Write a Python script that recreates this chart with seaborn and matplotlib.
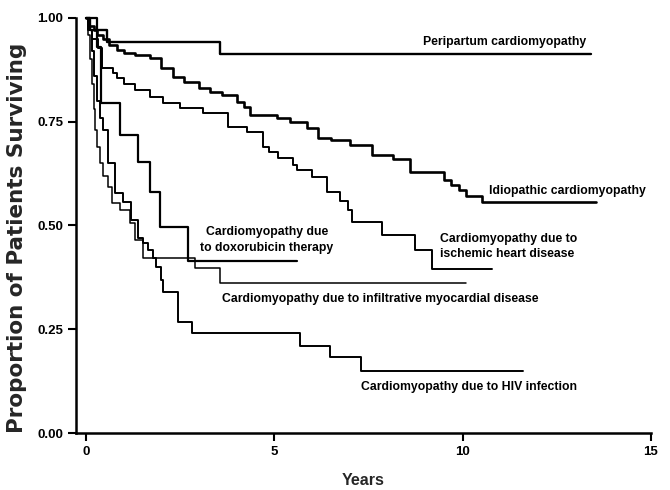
import numpy as np
import pandas as pd
import seaborn as sns
import matplotlib
matplotlib.use("Agg")
import matplotlib.pyplot as plt
from matplotlib.ticker import FormatStrFormatter

# survival curves (years, proportion surviving)
peripartum_t = [0, 0.1, 0.55, 3.55, 13.4]
peripartum_v = [1.0, 0.97, 0.942, 0.913, 0.913]

idiopathic_t = [0, 0.08, 0.2, 0.29, 0.45, 0.6, 0.82, 1.0, 1.3, 1.7, 2.0, 2.3, 2.6, 3.0, 3.3, 3.6,
                4.0, 4.2, 4.35, 5.07, 5.4, 5.86, 6.15, 6.5, 7.0, 7.6, 8.15, 8.6, 9.5, 9.7, 9.9,
                10.1, 10.5, 13.55]
idiopathic_v = [1.0, 0.98, 0.97, 0.96, 0.95, 0.935, 0.923, 0.915, 0.91, 0.903, 0.88, 0.858, 0.845,
                0.831, 0.822, 0.814, 0.798, 0.785, 0.766, 0.759, 0.749, 0.735, 0.711, 0.706, 0.694,
                0.67, 0.66, 0.629, 0.61, 0.598, 0.585, 0.572, 0.557, 0.557]

ischemic_t = [0, 0.05, 0.15, 0.32, 0.42, 0.72, 0.82, 1.0, 1.3, 1.7, 2.04, 2.5, 3.1, 3.77, 4.27,
              4.7, 4.85, 5.1, 5.5, 5.6, 6.0, 6.4, 6.75, 6.95, 7.05, 7.85, 8.73, 9.18, 10.77]
ischemic_v = [1.0, 0.97, 0.95, 0.928, 0.88, 0.868, 0.855, 0.84, 0.826, 0.81, 0.795, 0.783, 0.771,
              0.737, 0.725, 0.689, 0.677, 0.663, 0.646, 0.634, 0.617, 0.581, 0.56, 0.537, 0.508,
              0.477, 0.441, 0.395, 0.395]

doxorubicin_t = [0, 0.3, 0.4, 0.9, 1.38, 1.7, 1.96, 2.7, 5.6]
doxorubicin_v = [1.0, 0.93, 0.795, 0.718, 0.653, 0.58, 0.496, 0.415, 0.415]

infiltrative_t = [0, 0.05, 0.1, 0.15, 0.2, 0.24, 0.3, 0.37, 0.45, 0.58, 0.68, 0.9, 1.17, 1.3, 1.5,
                  2.9, 3.55, 10.1]
infiltrative_v = [1.0, 0.96, 0.9, 0.84, 0.78, 0.73, 0.69, 0.65, 0.62, 0.593, 0.554, 0.537, 0.506,
                  0.465, 0.422, 0.398, 0.361, 0.361]

hiv_t = [0, 0.08, 0.15, 0.22, 0.3, 0.38, 0.45, 0.58, 0.77, 0.98, 1.2, 1.37, 1.5, 1.64, 1.78, 1.85,
         2.0, 2.05, 2.45, 2.81, 5.68, 6.47, 7.3, 11.6]
hiv_v = [1.0, 0.97, 0.92, 0.86, 0.8, 0.76, 0.73, 0.65, 0.578, 0.557, 0.513, 0.47, 0.458, 0.441,
         0.422, 0.4, 0.369, 0.34, 0.267, 0.241, 0.21, 0.183, 0.15, 0.15]

curves = [
    ("Peripartum", peripartum_t, peripartum_v, 1.7),
    ("Idiopathic", idiopathic_t, idiopathic_v, 1.9),
    ("Ischemic", ischemic_t, ischemic_v, 1.4),
    ("Doxorubicin", doxorubicin_t, doxorubicin_v, 1.6),
    ("Infiltrative", infiltrative_t, infiltrative_v, 1.1),
    ("HIV", hiv_t, hiv_v, 1.4),
]

sns.set_style("ticks")
plt.rcParams["font.family"] = ["Liberation Sans", "DejaVu Sans"]

fig = plt.figure(figsize=(6.7, 4.9), dpi=100)
ax = fig.add_axes([76 / 670, 57 / 490, 575 / 670, 415 / 490])

for name, t, v, lw in curves:
    df = pd.DataFrame({"Years": t, "Surv": v})
    sns.lineplot(data=df, x="Years", y="Surv", ax=ax, color="black", linewidth=lw,
                 drawstyle="steps-post", estimator=None, sort=False, clip_on=False)

ax.set_xlim(-0.27, 15)
ax.set_ylim(0, 1.0)
ax.set_xticks([0, 5, 10, 15])
ax.set_yticks([0, 0.25, 0.5, 0.75, 1.0])
ax.yaxis.set_major_formatter(FormatStrFormatter("%.2f"))
sns.despine(ax=ax)
for s in ["left", "bottom"]:
    ax.spines[s].set_linewidth(1.8)
    ax.spines[s].set_color("black")
ax.tick_params(direction="out", length=6, width=1.5, colors="black", labelsize=9.5, pad=3)
for lab in ax.get_xticklabels() + ax.get_yticklabels():
    lab.set_fontweight("bold")

ax.set_xlabel("Years", fontsize=11.5, fontweight="bold", labelpad=11)
ax.set_ylabel("Proportion of Patients Surviving", fontsize=15.5, fontweight="bold",
              family=["DejaVu Sans"])
ax.yaxis.set_label_coords(-0.085, 0.47)

tk = dict(fontsize=8.8, fontweight="bold", color="black")
ax.text(8.95, 0.942, "Peripartum cardiomyopathy", ha="left", va="center", **tk)
ax.text(10.7, 0.584, "Idiopathic cardiomyopathy", ha="left", va="center", **tk)
ax.text(9.4, 0.45, "Cardiomyopathy due to\nischemic heart disease", ha="left", va="center",
        linespacing=1.35, **tk)
ax.text(4.8, 0.465, "Cardiomyopathy due\nto doxorubicin therapy", ha="center", va="center",
        linespacing=1.35, **tk)
ax.text(3.6, 0.323, "Cardiomyopathy due to infiltrative myocardial disease", ha="left",
        va="center", **tk)
ax.text(7.3, 0.11, "Cardiomyopathy due to HIV infection", ha="left", va="center", **tk)

fig.savefig("out.png", dpi=100)
